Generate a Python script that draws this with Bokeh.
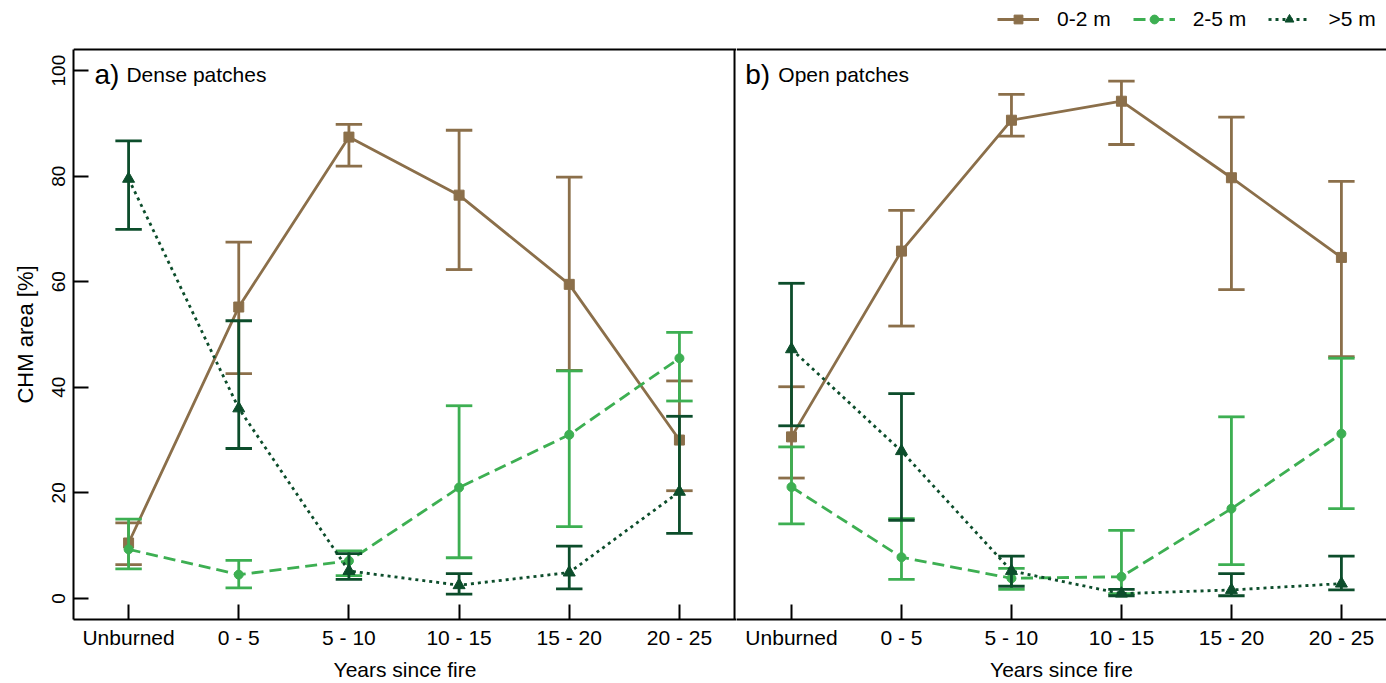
from bokeh.plotting import figure
from bokeh.layouts import row
from bokeh.models import FixedTicker, Span, Label, Legend, LegendItem, Range1d
from bokeh.embed import file_html
from bokeh.resources import INLINE

categories = ["Unburned", "0 - 5", "5 - 10", "10 - 15", "15 - 20", "20 - 25"]
series_names = ["0-2 m", "2-5 m", ">5 m"]
panel_letters = ["a)", "b)"]
panel_titles = ["Dense patches", "Open patches"]
y_title = "CHM area [%]"
x_title = "Years since fire"

# Panel a: dense patches
dense_02_mean = [10.5, 55.2, 87.4, 76.4, 59.5, 30.0]
dense_02_low = [6.4, 42.6, 81.9, 62.3, 43.2, 20.4]
dense_02_high = [14.3, 67.5, 89.8, 88.7, 79.8, 41.2]

dense_25_mean = [9.3, 4.5, 7.1, 21.0, 31.0, 45.5]
dense_25_low = [5.6, 2.0, 4.3, 7.7, 13.6, 37.4]
dense_25_high = [15.0, 7.2, 9.0, 36.5, 43.1, 50.4]

dense_5_mean = [79.5, 36.0, 5.2, 2.5, 4.9, 20.2]
dense_5_low = [69.9, 28.4, 3.6, 0.8, 1.8, 12.3]
dense_5_high = [86.7, 52.6, 8.5, 4.7, 9.9, 34.5]

# Panel b: open patches
open_02_mean = [30.6, 65.8, 90.6, 94.2, 79.7, 64.6]
open_02_low = [22.8, 51.6, 87.6, 86.0, 58.5, 45.8]
open_02_high = [40.1, 73.5, 95.5, 98.0, 91.2, 79.0]

open_25_mean = [21.1, 7.8, 3.8, 4.1, 17.0, 31.2]
open_25_low = [14.1, 3.6, 1.7, 0.9, 6.4, 17.0]
open_25_high = [28.7, 15.1, 5.7, 12.9, 34.4, 45.5]

open_5_mean = [47.2, 27.9, 5.2, 0.9, 1.6, 2.8]
open_5_low = [32.7, 14.8, 2.3, 0.5, 0.5, 1.6]
open_5_high = [59.7, 38.8, 8.0, 1.7, 4.7, 8.0]

y_ticks = [0, 20, 40, 60, 80, 100]

colors = ["#8B6F4A", "#3DAF52", "#0C4D2B"]
dashes = ["solid", "12 6", "3 4"]
markers = ["square", "circle", "triangle"]
msizes = [10, 9, 12]

data = [
    [(dense_02_mean, dense_02_low, dense_02_high), (open_02_mean, open_02_low, open_02_high)],
    [(dense_25_mean, dense_25_low, dense_25_high), (open_25_mean, open_25_low, open_25_high)],
    [(dense_5_mean, dense_5_low, dense_5_high), (open_5_mean, open_5_low, open_5_high)],
]

FONT = "Liberation Sans"
n = len(categories)
cap = 0.12
Y_LO, Y_HI = -4, 104
Y_TOP = Y_HI + 49 / 5.28   # room above the frame line for the legend


def style_x(p):
    p.xaxis.ticker = FixedTicker(ticks=list(range(n)))
    p.xaxis.major_label_overrides = {i: c for i, c in enumerate(categories)}
    p.xaxis.major_tick_in = 15
    p.xaxis.major_tick_out = 0
    p.xaxis.minor_tick_in = 0
    p.xaxis.minor_tick_out = 0
    p.xaxis.axis_line_width = 2
    p.xaxis.major_tick_line_width = 2
    p.xaxis.major_label_text_font = FONT
    p.xaxis.major_label_text_font_size = "21px"
    p.xaxis.major_label_text_color = "black"
    p.xaxis.major_label_standoff = 6
    p.xaxis.axis_label = x_title
    p.xaxis.axis_label_text_font = FONT
    p.xaxis.axis_label_text_font_size = "21px"
    p.xaxis.axis_label_text_font_style = "normal"
    p.xaxis.axis_label_text_color = "black"
    p.xaxis.axis_label_standoff = 6
    p.xgrid.visible = False
    p.ygrid.visible = False
    p.outline_line_color = None
    p.add_layout(Span(location=Y_HI, dimension="width", line_color="black", line_width=2))


def draw_panel(p, k):
    renderers = []
    for s in range(3):
        mean, low, high = data[s][k]
        xs = list(range(n))
        p.segment(x0=xs, y0=low, x1=xs, y1=high, line_color=colors[s], line_width=2.8)
        p.segment(x0=[x - cap for x in xs], y0=low, x1=[x + cap for x in xs], y1=low,
                  line_color=colors[s], line_width=2.8)
        p.segment(x0=[x - cap for x in xs], y0=high, x1=[x + cap for x in xs], y1=high,
                  line_color=colors[s], line_width=2.8)
        lr = p.line(xs, mean, line_color=colors[s], line_width=2.8, line_dash=dashes[s])
        mr = p.scatter(xs, mean, marker=markers[s], size=msizes[s],
                       fill_color=colors[s], line_color=colors[s])
        renderers.append((lr, mr))
    return renderers


# Panel a
pa = figure(width=736, height=683, output_backend="svg", toolbar_location=None,
            x_range=Range1d(-0.5, 5.518), y_range=Range1d(Y_LO, Y_TOP),
            min_border_left=73, min_border_right=0, min_border_top=0, min_border_bottom=63)
style_x(pa)
# divider between the panels, only up to the frame top
pa.segment(x0=[n - 0.5], y0=[Y_LO], x1=[n - 0.5], y1=[Y_HI], line_color="black", line_width=2)
pa.yaxis.bounds = (Y_LO, Y_HI)
pa.yaxis.ticker = FixedTicker(ticks=y_ticks)
pa.yaxis.major_tick_in = 15
pa.yaxis.major_tick_out = 0
pa.yaxis.minor_tick_in = 0
pa.yaxis.minor_tick_out = 0
pa.yaxis.axis_line_width = 2
pa.yaxis.major_tick_line_width = 2
pa.yaxis.major_label_orientation = "vertical"
pa.yaxis.major_label_text_font = FONT
pa.yaxis.major_label_text_font_size = "19px"
pa.yaxis.major_label_text_color = "black"
pa.yaxis.major_label_standoff = 8
# trailing no-break spaces centre the visible title on the boxed area (below the legend strip)
pa.yaxis.axis_label = y_title + "\u00a0" * 8
pa.yaxis.axis_label_text_font = FONT
pa.yaxis.axis_label_text_font_size = "22px"
pa.yaxis.axis_label_text_font_style = "normal"
pa.yaxis.axis_label_text_color = "black"
pa.yaxis.axis_label_standoff = 12
draw_panel(pa, 0)

# Panel b
pb = figure(width=650, height=683, output_backend="svg", toolbar_location=None,
            x_range=Range1d(-0.5, 5.41), y_range=Range1d(Y_LO, Y_TOP),
            min_border_left=0, min_border_right=0, min_border_top=0, min_border_bottom=63)
pb.yaxis.visible = False
style_x(pb)
rb = draw_panel(pb, 1)

legend = Legend(items=[LegendItem(label=series_names[s], renderers=list(rb[s])) for s in range(3)],
                orientation="horizontal", location=(261, 588),
                glyph_width=42, glyph_height=22, label_standoff=18, spacing=22,
                padding=0, margin=0, border_line_color=None, background_fill_alpha=0,
                label_text_font=FONT, label_text_font_size="21px", label_text_color="black")
pb.add_layout(legend, "center")

for k, p in enumerate([pa, pb]):
    p.add_layout(Label(x=-0.31 if k == 0 else -0.42, y=99.2, text=panel_letters[k], text_font=FONT,
                       text_font_size="28px", text_color="black", text_baseline="alphabetic"))
    p.add_layout(Label(x=-0.02 if k == 0 else -0.12, y=99.2, text=panel_titles[k], text_font=FONT,
                       text_font_size="21px", text_color="black", text_baseline="alphabetic"))

layout = row(pa, pb, spacing=0)
open("out.html", "w").write(file_html(layout, INLINE))
